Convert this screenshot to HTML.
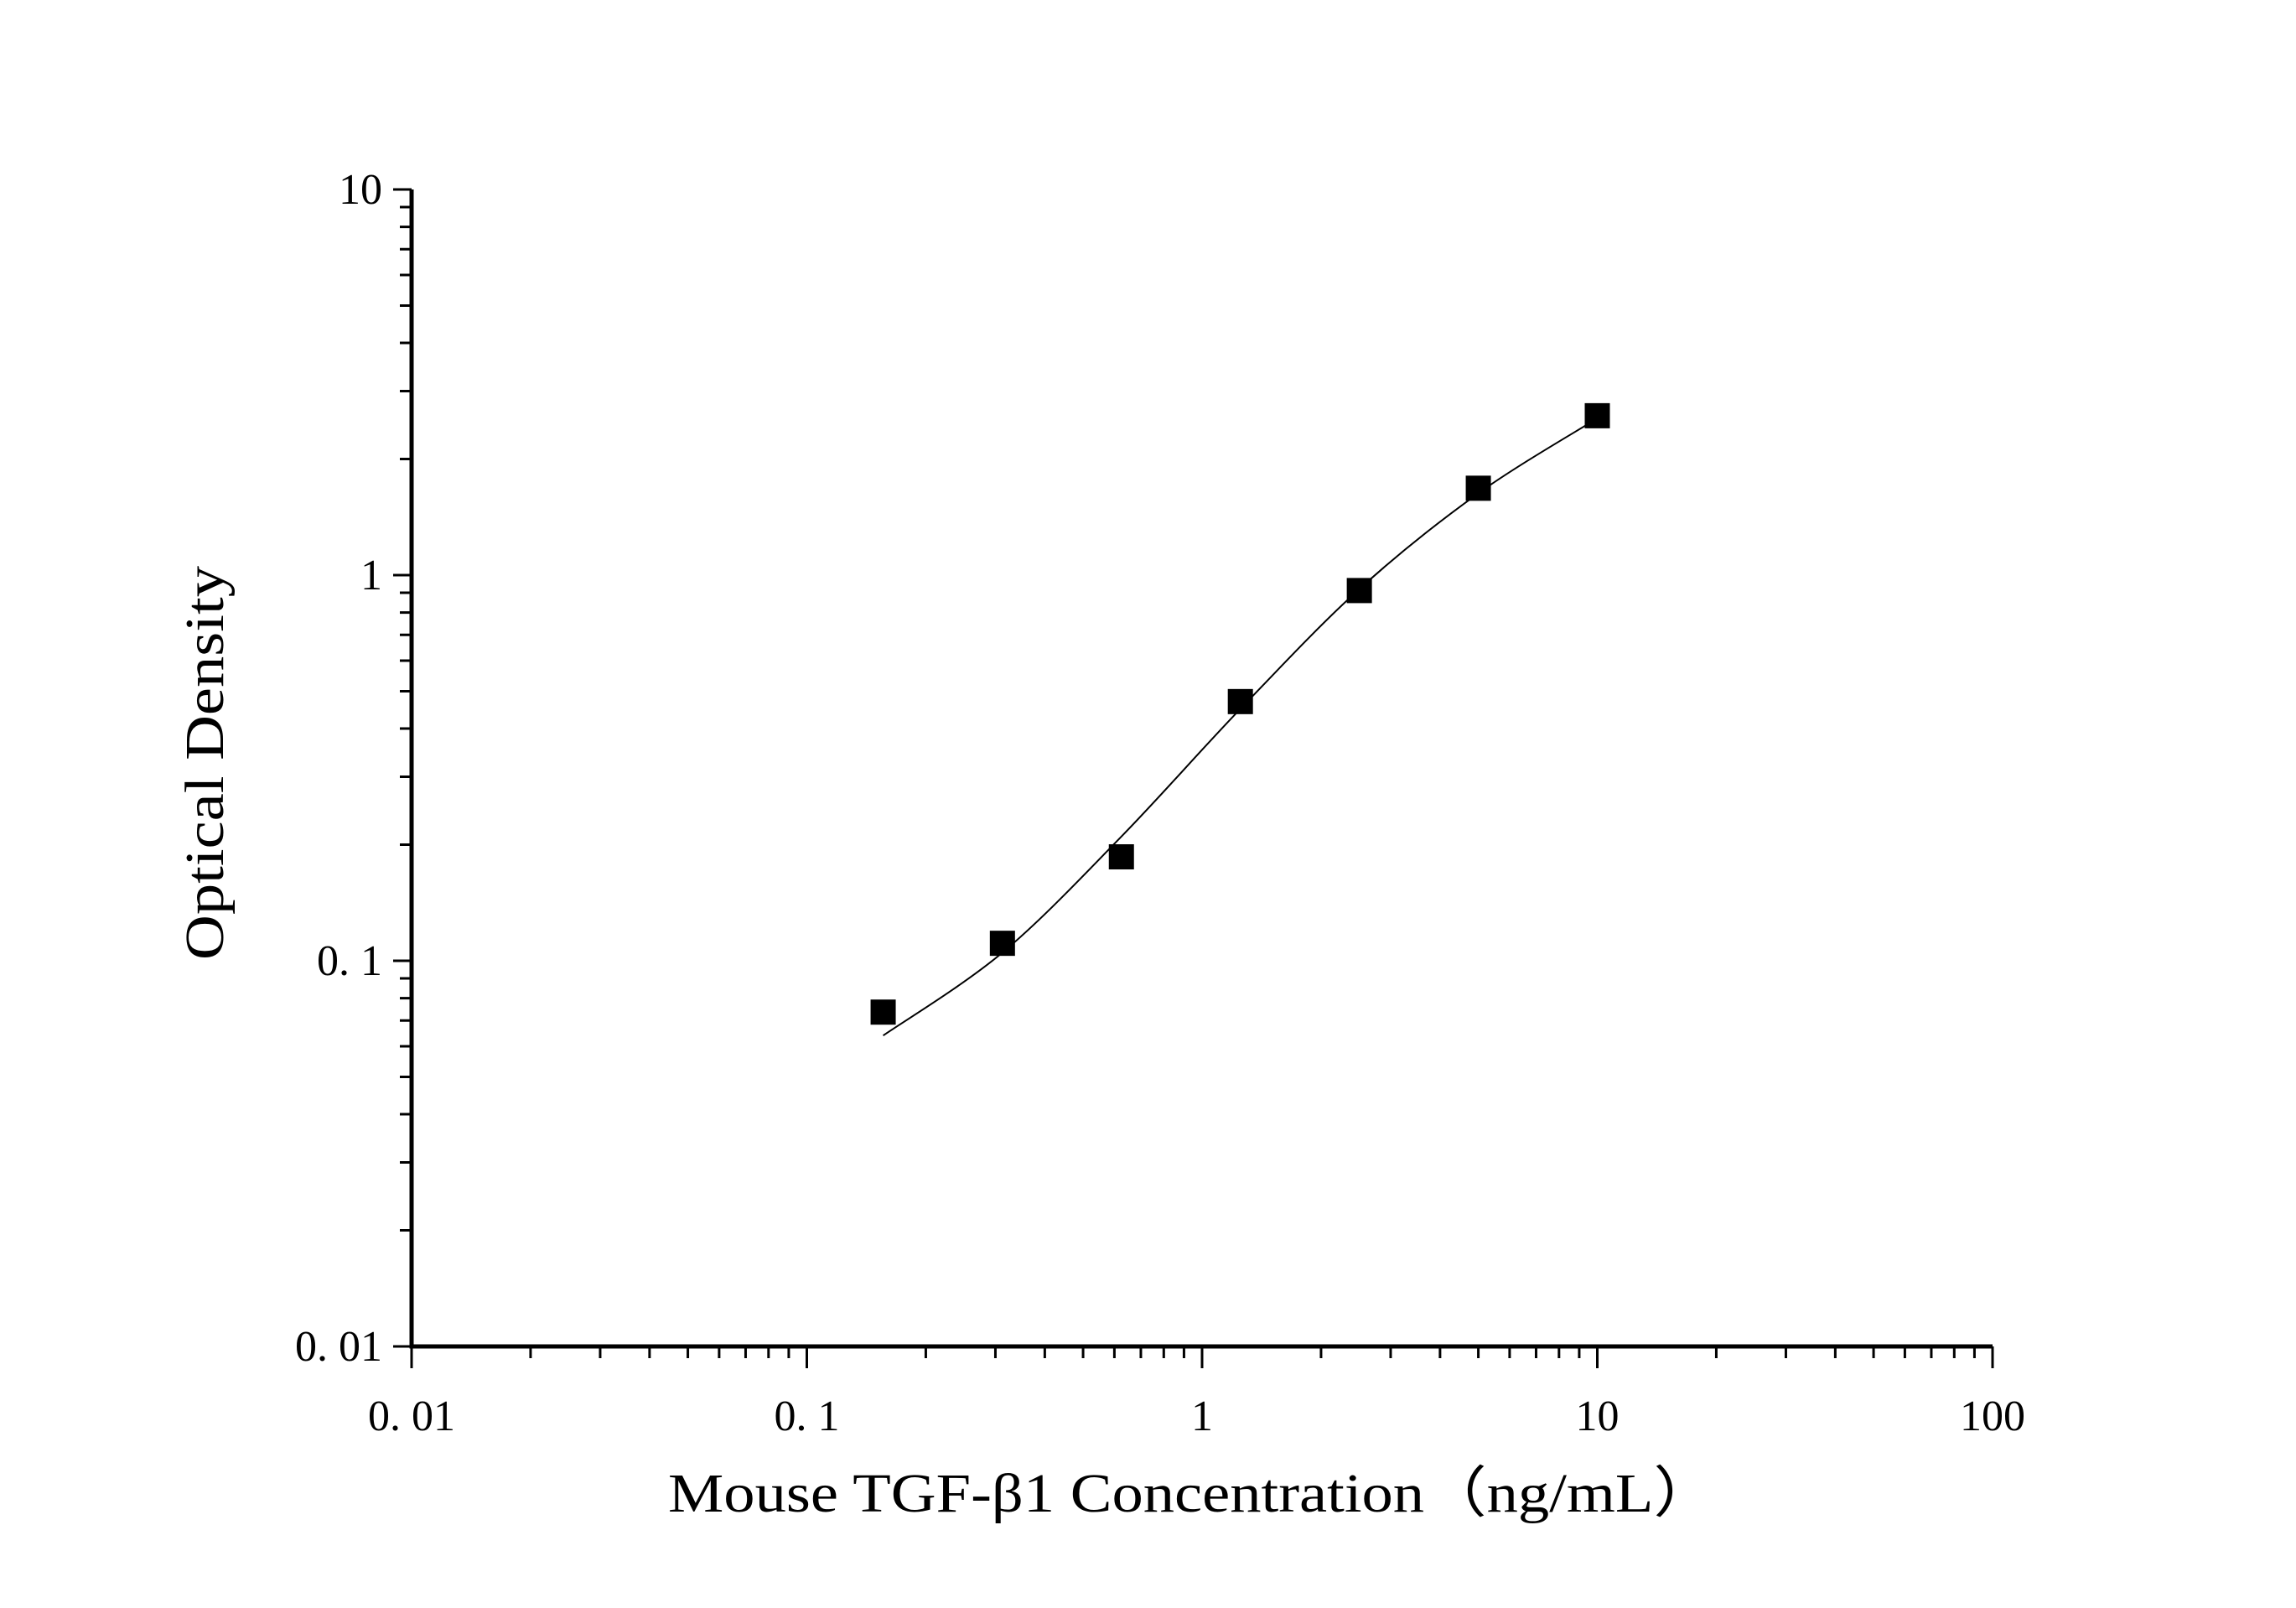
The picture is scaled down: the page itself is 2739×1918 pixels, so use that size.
<!DOCTYPE html>
<html><head><meta charset="utf-8"><style>html,body{margin:0;padding:0;background:#fff}</style></head>
<body>
<svg id="chart" width="2739" height="1913" xmlns="http://www.w3.org/2000/svg" style="font-family:'Liberation Serif',serif">
<rect width="2739" height="1913" fill="#fff"/>
<g id="axes"></g>
<g id="marks"></g>
<text x="1422" y="1803" font-size="66" text-anchor="middle" textLength="1250" lengthAdjust="spacingAndGlyphs">Mouse TGF-β1 Concentration（ng/mL）</text>
<text transform="translate(266,910) rotate(-90)" font-size="66" text-anchor="middle" textLength="470" lengthAdjust="spacingAndGlyphs">Optical Density</text>
</svg>
<script>
const concentrations=[0.156,0.3125,0.625,1.25,2.5,5,10];
const odValues=[0.0736,0.111,0.186,0.47,0.912,1.68,2.59];
const fitX=[0.156,0.3125,0.625,1.25,2.5,5,10];
const fitY=[0.064,0.105,0.21,0.45,0.92,1.63,2.55];
const xTickLabels=["0. 01","0. 1","1","10","100"];
const yTickLabels=["0. 01","0. 1","1","10"];
const X0=491,X1=2377,Y0=1606,Y1=226;
const xs=v=>X0+(Math.log10(v)+2)/4*(X1-X0);
const ys=v=>Y0-(Math.log10(v)+2)/3*(Y0-Y1);
const NS="http://www.w3.org/2000/svg";
const axes=document.getElementById('axes'),marks=document.getElementById('marks');
function mk(t,a,p){const e=document.createElementNS(NS,t);for(const k in a)e.setAttribute(k,a[k]);p.appendChild(e);return e;}
let e=mk('path',{d:`M${X0},${Y1}V${Y0}H${X1}`,fill:'none',stroke:'#000','stroke-width':5},axes);


let d='';
for(let p=-2;p<=2;p++){const b=Math.pow(10,p);
  d+=`M${xs(b)},${Y0}v26`;
  if(p<2)for(let m=2;m<10;m++)d+=`M${xs(b*m)},${Y0}v14`;}
for(let p=-2;p<=1;p++){const b=Math.pow(10,p);
  d+=`M${X0},${ys(b)}h-22`;
  if(p<1)for(let m=2;m<10;m++)d+=`M${X0},${ys(b*m)}h-14`;}
e=mk('path',{d:d,stroke:'#000','stroke-width':3,fill:'none'},axes);


xTickLabels.forEach((t,i)=>{const el=mk('text',{x:xs(Math.pow(10,i-2)),y:1706,'font-size':52,'text-anchor':'middle'},axes);el.textContent=t;

});
yTickLabels.forEach((t,i)=>{const el=mk('text',{x:456,y:ys(Math.pow(10,i-2))+17,'font-size':52,'text-anchor':'end'},axes);el.textContent=t;

});
// smooth fit curve (Catmull-Rom in pixel space)
const P=fitX.map((x,i)=>[xs(x),ys(fitY[i])]);
let c=`M${P[0][0]},${P[0][1]}`;
for(let i=0;i<P.length-1;i++){const p0=P[Math.max(0,i-1)],p1=P[i],p2=P[i+1],p3=P[Math.min(P.length-1,i+2)];
c+=`C${p1[0]+(p2[0]-p0[0])/6},${p1[1]+(p2[1]-p0[1])/6} ${p2[0]-(p3[0]-p1[0])/6},${p2[1]-(p3[1]-p1[1])/6} ${p2[0]},${p2[1]}`;}
e=mk('path',{d:c,fill:'none',stroke:'#000','stroke-width':2},marks);


concentrations.forEach((x,i)=>{const s=mk('rect',{x:xs(x)-15,y:ys(odValues[i])-15,width:30,height:30,fill:'#000'},marks);

});
</script>
</body></html>
